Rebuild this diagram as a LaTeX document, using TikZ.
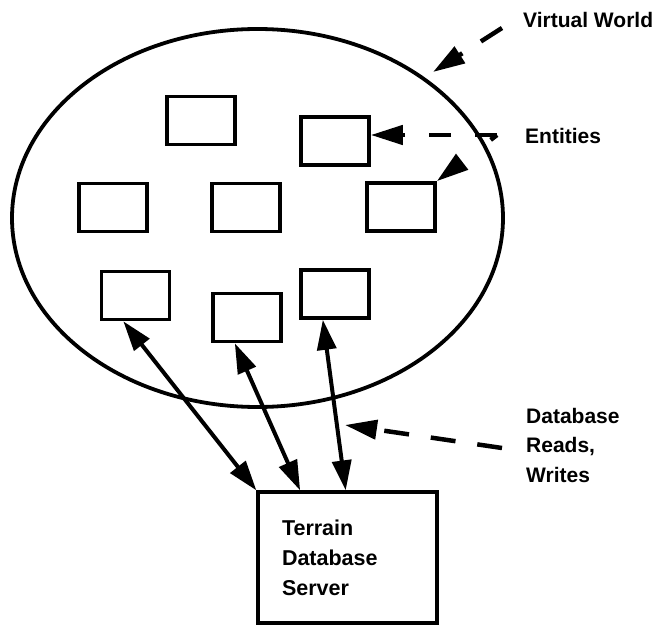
\documentclass[tikz,border=0pt]{standalone}
\usepackage{fontspec}
\setmainfont{Liberation Sans}
\usetikzlibrary{arrows.meta, shapes.geometric, calc}

\begin{document}
\begin{tikzpicture}[
            x=1pt, y=-1pt,
            entity/.style={rectangle, draw, line width=3.6pt, minimum width=68pt, minimum height=48pt, inner sep=0pt},
            note/.style={font=\fontsize{21}{29.5}\selectfont\bfseries, align=left, inner sep=0pt},
            access/.style={line width=4pt, {Triangle[length=30pt, width=19pt]}-{Triangle[length=30pt, width=19pt]}},
            hint/.style={line width=4.5pt, dash pattern=on 25pt off 22pt, -{Triangle[length=32pt, width=19pt]}}
        ]
            \useasboundingbox (0,0) rectangle (657,626);

            \node[ellipse, draw, line width=3.8pt, minimum width=491pt, minimum height=378pt] (world) at (257.5,218) {};

            \node[entity] (e1) at (201,120.5) {};
            \node[entity] (e2) at (335,141) {};
            \node[entity] (e3) at (113,207.5) {};
            \node[entity] (e4) at (246,207.5) {};
            \node[entity] (e5) at (401,207) {};
            \node[entity] (e6) at (135.5,295.5) {};
            \node[entity] (e7) at (247,317.5) {};
            \node[entity] (e8) at (335,294) {};

            \node[draw, line width=3.2pt, minimum width=179pt, minimum height=131pt, text width=131pt, inner xsep=24pt,
                  font=\fontsize{21.5}{30}\selectfont\bfseries, align=left] (server) at (347.5,557.5) {Terrain\\Database\\Server};

            \node[note, anchor=west] (vw) at (523,20) {Virtual World};
            \node[note, anchor=west] (ent) at (525,135.5) {Entities};
            \node[note, anchor=north west] (db) at (526,408) {Database\\Reads,\\Writes};

            \coordinate (vwtail) at (502,28);
            \coordinate (vwtip) at (433,72);
            \coordinate (enttail) at (497,135);
            \coordinate (dbtail) at (502,448);
            \coordinate (dbtip) at (345,425);

            \draw[hint] (vwtail) -- (vwtip);
            \draw[hint, dash pattern=on 22pt off 24pt] (enttail) -- (enttail -| e2.east);
            \draw[hint, dash pattern=on 8pt off 40pt] (enttail) -- (e5.north east);
            \draw[hint] (dbtail) -- (dbtip);

            \draw[access] ($(e6.south west)!0.33!(e6.south east)$) -- (server.north west);
            \draw[access] ($(e7.south west)!0.33!(e7.south east)$) -- ($(server.north west)!0.24!(server.north east)$);
            \draw[access] ($(e8.south west)!0.33!(e8.south east)$) -- ($(server.north west)!0.49!(server.north east)$);
        \end{tikzpicture}
\end{document}
